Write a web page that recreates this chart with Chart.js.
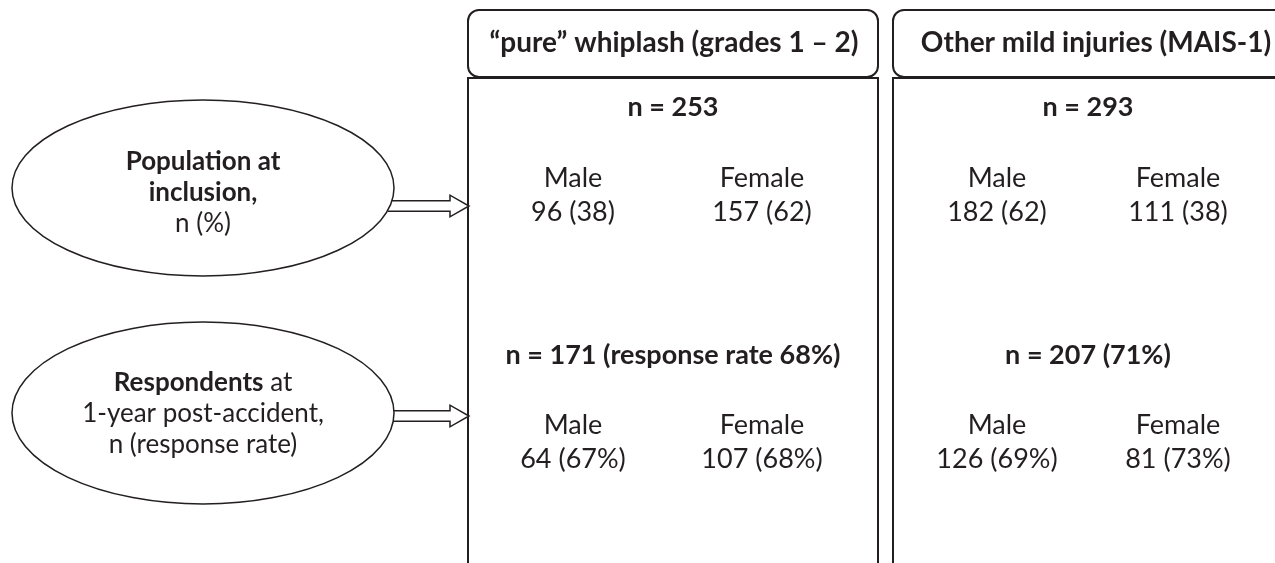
<!DOCTYPE html>
<html>
<head>
<meta charset="utf-8">
<script src="https://cdn.jsdelivr.net/npm/chart.js@4.4.1/dist/chart.umd.min.js"></script>
<style>
  html, body { margin: 0; padding: 0; background: #fff; }
  #wrap { width: 1275px; height: 563px; position: relative; }
</style>
</head>
<body>
<div id="wrap"><canvas id="flow"></canvas></div>
<script>
// study groups (one column each)
const groups = ['\u201Cpure\u201D whiplash (grades 1 \u2013 2)', 'Other mild injuries (MAIS-1)'];

// population at inclusion, n (%)
const inclN = [253, 293];
const inclMale = [96, 182];
const inclMalePct = [38, 62];
const inclFemale = [157, 111];
const inclFemalePct = [62, 38];

// respondents at 1-year post-accident, n (response rate)
const respN = [171, 207];
const respRate = [68, 71];
const respMale = [64, 126];
const respMaleRate = [67, 69];
const respFemale = [107, 81];
const respFemaleRate = [68, 73];

// row labels shown in the ellipses, [text, bold] pieces per line
const rowLabels = [
    [[['Population at', true]], [['inclusion,', true]], [['n (%)', false]]],
    [[['Respondents', true], [' at', false]], [['1-year post-accident,', false]], [['n (response rate)', false]]]
];

// layout in canvas units (x 0..1275, y 0..563)
const W = 1275, H = 563;
const colLeft = [468, 893];
const colRight = [878, 1290];
const headTop = 10, headBottom = 77;
const colMid = [673, 1088];
const headMid = [674, 1096];
const maleX = [573, 997];
const femaleX = [762, 1178];
const rowY = [188, 413];       // ellipse centres
const arrowY = [206, 416];
const ink = '#231f20';
const FONT = 'Lato, "Open Sans", sans-serif';

function nLine(i) {
    return 'n = ' + respN[i] + (i === 0 ? ' (response rate ' + respRate[i] + '%)' : ' (' + respRate[i] + '%)');
}

const flowPlugin = {
    id: 'flow',
    afterDraw(chart) {
        const ctx = chart.ctx;
        const sx = chart.scales.x, sy = chart.scales.y;
        const X = v => sx.getPixelForValue(v);
        const Y = v => sy.getPixelForValue(v);

        function text(pieces, x, y, size) {
            size = size || 27;
            let total = 0;
            pieces.forEach(p => {
                ctx.font = (p[1] ? 'bold ' : '') + size + 'px ' + FONT;
                total += ctx.measureText(p[0]).width;
            });
            let cur = X(x) - total / 2;
            ctx.fillStyle = ink;
            ctx.textBaseline = 'middle';
            ctx.textAlign = 'left';
            pieces.forEach(p => {
                ctx.font = (p[1] ? 'bold ' : '') + size + 'px ' + FONT;
                ctx.fillText(p[0], cur, Y(y));
                cur += ctx.measureText(p[0]).width;
            });
        }

        ctx.save();
        ctx.strokeStyle = ink;

        // columns: header box + body box
        ctx.lineWidth = 2;
        groups.forEach((g, i) => {
            ctx.beginPath();
            ctx.roundRect(X(colLeft[i]), Y(headTop), X(colRight[i]) - X(colLeft[i]), Y(headBottom) - Y(headTop), 11);
            ctx.stroke();
            ctx.beginPath();
            ctx.rect(X(colLeft[i]), Y(headBottom + 1), X(colRight[i]) - X(colLeft[i]), Y(H + 20) - Y(headBottom + 1));
            ctx.stroke();

            text([[g, true]], headMid[i], 43, 28);
            text([['n = ' + inclN[i], true]], colMid[i], 107);
            text([['Male', false]], maleX[i], 178);
            text([['Female', false]], femaleX[i], 178);
            text([[inclMale[i] + ' (' + inclMalePct[i] + ')', false]], maleX[i], 212);
            text([[inclFemale[i] + ' (' + inclFemalePct[i] + ')', false]], femaleX[i], 212);

            text([[nLine(i), true]], colMid[i], 355);
            text([['Male', false]], maleX[i], 425);
            text([['Female', false]], femaleX[i], 425);
            text([[respMale[i] + ' (' + respMaleRate[i] + '%)', false]], maleX[i], 459);
            text([[respFemale[i] + ' (' + respFemaleRate[i] + '%)', false]], femaleX[i], 459);
        });

        // hollow arrows from ellipses to first column
        ctx.lineWidth = 1.5;
        arrowY.forEach(ay => {
            const x0 = 388, xh = 450, xt = 469, s = 5.3, hh = 10.8;
            ctx.beginPath();
            ctx.moveTo(X(x0), Y(ay - s));
            ctx.lineTo(X(xh), Y(ay - s));
            ctx.lineTo(X(xh), Y(ay - hh));
            ctx.lineTo(X(xt), Y(ay));
            ctx.lineTo(X(xh), Y(ay + hh));
            ctx.lineTo(X(xh), Y(ay + s));
            ctx.lineTo(X(x0), Y(ay + s));
            ctx.fillStyle = '#fff';
            ctx.fill();
            ctx.stroke();
        });

        // ellipses with row labels
        rowLabels.forEach((lines, r) => {
            const cx = 203, rx = 191, ry = r === 0 ? 88 : 91;
            ctx.beginPath();
            ctx.ellipse(X(cx), Y(rowY[r]), X(cx + rx) - X(cx), Math.abs(Y(rowY[r] + ry) - Y(rowY[r])), 0, 0, Math.PI * 2);
            ctx.fillStyle = '#fff';
            ctx.fill();
            ctx.lineWidth = 1.5;
            ctx.stroke();
            const top = r === 0 ? 162 : 383;
            lines.forEach((ln, k) => text(ln, cx, top + k * 31, 26));
        });
        ctx.restore();
    }
};

new Chart(document.getElementById('flow'), {
    type: 'scatter',
    data: { datasets: [] },
    options: {
        responsive: true,
        maintainAspectRatio: false,
        animation: false,
        layout: { padding: 0 },
        plugins: { legend: { display: false }, tooltip: { enabled: false } },
        scales: {
            x: { type: 'linear', min: 0, max: W, display: false },
            y: { type: 'linear', min: 0, max: H, reverse: true, display: false }
        }
    },
    plugins: [flowPlugin]
});
</script>
</body>
</html>
